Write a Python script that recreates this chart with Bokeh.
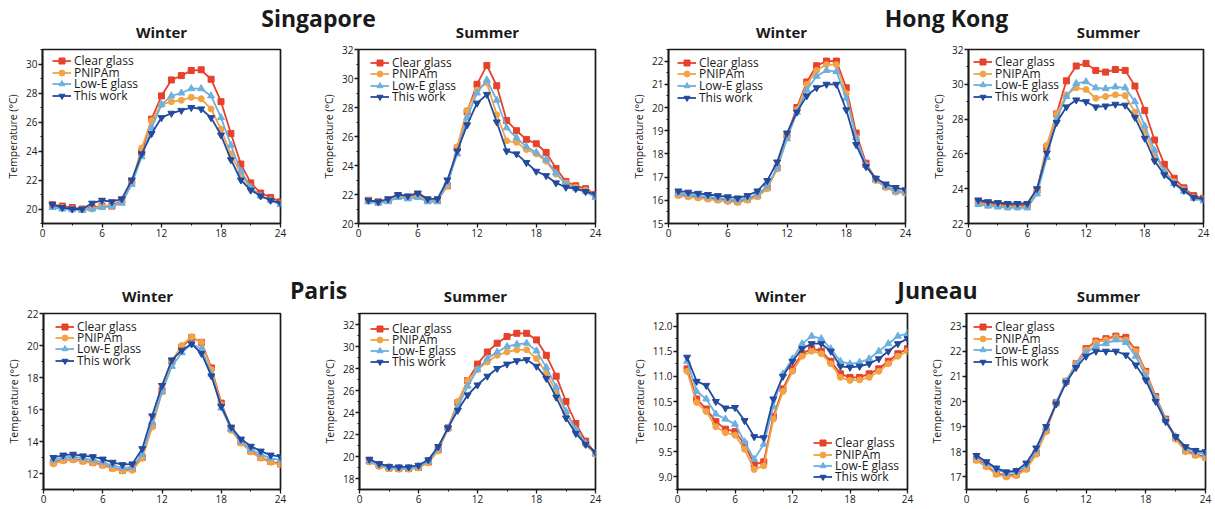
from bokeh.plotting import figure
from bokeh.models import Range1d, FixedTicker, PrintfTickFormatter, Label, Legend, LegendItem
from bokeh.layouts import column, row
from bokeh.embed import file_html
from bokeh.resources import INLINE

FONT = "Open Sans"

hours = list(range(1, 25))
series_names = ["Clear glass", "PNIPAm", "Low-E glass", "This work"]
series_colors = ["#e8412b", "#f2a345", "#6cb0e0", "#234a9c"]
series_markers = ["square", "circle", "triangle", "inverted_triangle"]
x_major = [0, 6, 12, 18, 24]
x_minor = [3, 9, 15, 21]

sg_w_clear = [20.3, 20.2, 20.1, 20.0, 20.1, 20.2, 20.2, 20.6, 21.9, 23.9, 26.2, 27.8, 28.9, 29.2, 29.55, 29.6, 28.95, 27.4, 25.2, 23.1, 21.8, 21.1, 20.8, 20.5]
sg_w_pnipam = [20.2, 20.1, 20.0, 20.0, 20.0, 20.2, 20.2, 20.5, 21.8, 24.2, 26.1, 27.2, 27.4, 27.5, 27.7, 27.6, 26.9, 25.5, 23.8, 22.4, 21.4, 20.9, 20.6, 20.4]
sg_w_lowe = [20.1, 20.0, 19.95, 19.9, 20.0, 20.1, 20.2, 20.4, 21.7, 23.6, 25.6, 27.2, 27.8, 28.0, 28.3, 28.3, 27.8, 26.3, 24.4, 22.6, 21.5, 20.9, 20.6, 20.3]
sg_w_this = [20.3, 20.1, 20.0, 20.0, 20.4, 20.6, 20.5, 20.7, 22.0, 23.8, 25.2, 26.3, 26.6, 26.8, 27.0, 26.9, 26.3, 25.1, 23.4, 22.0, 21.3, 20.9, 20.6, 20.4]

sg_s_clear = [21.6, 21.5, 21.6, 21.9, 21.8, 22.0, 21.6, 21.6, 22.6, 25.2, 27.7, 29.6, 30.9, 29.5, 27.1, 26.4, 25.8, 25.5, 24.9, 23.8, 22.9, 22.6, 22.4, 22.0]
sg_s_pnipam = [21.6, 21.5, 21.6, 21.9, 21.8, 21.9, 21.6, 21.6, 22.6, 25.3, 27.8, 29.2, 29.7, 27.5, 25.7, 25.6, 25.1, 24.8, 24.3, 23.4, 22.8, 22.5, 22.3, 21.9]
sg_s_lowe = [21.5, 21.4, 21.5, 21.8, 21.7, 21.8, 21.5, 21.5, 22.8, 24.8, 27.3, 29.0, 29.9, 28.5, 26.6, 25.9, 25.3, 24.9, 24.4, 23.5, 22.7, 22.4, 22.2, 21.8]
sg_s_this = [21.6, 21.5, 21.7, 22.0, 21.9, 22.1, 21.7, 21.7, 23.0, 25.0, 26.8, 28.3, 28.9, 27.0, 25.0, 24.8, 24.2, 23.6, 23.3, 22.8, 22.5, 22.4, 22.2, 22.0]

hk_w_clear = [16.25, 16.2, 16.15, 16.1, 16.05, 16.0, 15.95, 16.05, 16.2, 16.55, 17.4, 18.8, 20.0, 21.1, 21.8, 22.0, 22.0, 20.85, 18.9, 17.6, 16.9, 16.6, 16.4, 16.35]
hk_w_pnipam = [16.2, 16.15, 16.1, 16.05, 16.0, 15.95, 15.9, 16.0, 16.15, 16.5, 17.35, 18.7, 19.9, 21.0, 21.6, 21.85, 21.85, 20.6, 18.7, 17.5, 16.85, 16.55, 16.35, 16.3]
hk_w_lowe = [16.3, 16.25, 16.2, 16.15, 16.1, 16.05, 16.0, 16.1, 16.25, 16.6, 17.4, 18.65, 19.8, 20.75, 21.35, 21.6, 21.55, 20.4, 18.7, 17.5, 16.9, 16.6, 16.4, 16.35]
hk_w_this = [16.4, 16.35, 16.3, 16.25, 16.2, 16.15, 16.1, 16.2, 16.4, 16.85, 17.65, 18.9, 19.8, 20.5, 20.85, 21.0, 21.0, 19.9, 18.4, 17.45, 16.95, 16.7, 16.55, 16.45]

hk_s_clear = [23.25, 23.15, 23.1, 23.05, 23.05, 23.05, 23.9, 26.4, 28.3, 30.2, 31.05, 31.2, 30.8, 30.7, 30.85, 30.8, 29.9, 28.5, 26.8, 25.4, 24.6, 24.05, 23.6, 23.45]
hk_s_pnipam = [23.15, 23.05, 23.0, 22.95, 22.95, 22.95, 23.85, 26.5, 28.3, 29.4, 29.8, 29.7, 29.2, 29.3, 29.4, 29.35, 28.4, 27.3, 25.9, 25.0, 24.4, 23.95, 23.5, 23.4]
hk_s_lowe = [23.1, 23.0, 22.95, 22.9, 22.9, 22.9, 23.7, 25.8, 28.0, 29.3, 30.05, 30.15, 29.8, 29.75, 29.85, 29.8, 29.0, 27.6, 26.2, 25.0, 24.3, 23.85, 23.45, 23.3]
hk_s_this = [23.35, 23.25, 23.2, 23.15, 23.15, 23.15, 24.0, 26.05, 27.8, 28.7, 29.1, 29.0, 28.7, 28.75, 28.85, 28.8, 28.1, 26.9, 25.6, 24.8, 24.3, 23.9, 23.5, 23.4]

pa_w_clear = [12.7, 12.85, 12.9, 12.8, 12.7, 12.55, 12.35, 12.2, 12.3, 13.0, 15.0, 17.2, 19.0, 19.9, 20.5, 20.2, 18.6, 16.4, 14.8, 13.95, 13.4, 13.0, 12.75, 12.6]
pa_w_pnipam = [12.6, 12.8, 12.85, 12.75, 12.65, 12.5, 12.3, 12.15, 12.2, 12.95, 14.9, 17.1, 19.0, 20.0, 20.55, 20.2, 18.5, 16.3, 14.7, 13.9, 13.35, 12.95, 12.7, 12.55]
pa_w_lowe = [12.85, 13.0, 13.05, 12.95, 12.85, 12.7, 12.5, 12.35, 12.4, 13.2, 15.2, 17.1, 18.7, 19.55, 20.1, 19.8, 18.2, 16.1, 14.75, 14.0, 13.5, 13.2, 12.95, 12.85]
pa_w_this = [13.0, 13.15, 13.2, 13.1, 13.05, 12.9, 12.7, 12.55, 12.6, 13.55, 15.6, 17.5, 19.1, 19.7, 20.1, 19.5, 18.1, 16.2, 14.9, 14.15, 13.7, 13.4, 13.15, 13.05]

pa_s_clear = [19.6, 19.2, 18.95, 18.9, 18.9, 19.0, 19.5, 20.6, 22.6, 24.9, 26.9, 28.4, 29.5, 30.3, 30.9, 31.2, 31.2, 30.6, 29.2, 27.3, 25.0, 23.0, 21.4, 20.3]
pa_s_pnipam = [19.5, 19.1, 18.9, 18.85, 18.85, 18.95, 19.45, 20.5, 22.5, 25.0, 26.9, 27.9, 28.6, 29.2, 29.5, 29.7, 29.7, 28.9, 27.6, 25.9, 24.0, 22.4, 21.1, 20.2]
pa_s_lowe = [19.6, 19.25, 19.0, 18.95, 18.95, 19.1, 19.55, 20.7, 22.6, 24.5, 26.4, 27.9, 28.9, 29.5, 30.0, 30.2, 30.3, 29.6, 28.1, 26.3, 24.1, 22.5, 21.2, 20.3]
pa_s_this = [19.75, 19.35, 19.1, 19.05, 19.05, 19.2, 19.7, 20.9, 22.6, 24.2, 25.6, 26.5, 27.3, 28.0, 28.4, 28.7, 28.8, 28.2, 27.1, 25.4, 23.5, 22.1, 21.1, 20.4]

ju_w_clear = [11.15, 10.55, 10.35, 10.1, 9.95, 9.9, 9.65, 9.25, 9.3, 10.2, 10.75, 11.15, 11.45, 11.55, 11.5, 11.3, 11.05, 10.98, 10.98, 11.05, 11.15, 11.3, 11.45, 11.55]
ju_w_pnipam = [11.1, 10.48, 10.3, 10.0, 9.88, 9.83, 9.55, 9.15, 9.22, 10.15, 10.7, 11.1, 11.4, 11.5, 11.45, 11.25, 10.98, 10.92, 10.93, 10.98, 11.1, 11.25, 11.4, 11.5]
ju_w_lowe = [11.3, 10.7, 10.55, 10.25, 10.15, 10.05, 9.7, 9.35, 9.65, 10.4, 11.05, 11.35, 11.65, 11.8, 11.75, 11.55, 11.3, 11.25, 11.28, 11.35, 11.5, 11.65, 11.8, 11.85]
ju_w_this = [11.38, 10.9, 10.82, 10.5, 10.37, 10.38, 10.12, 9.8, 9.78, 10.55, 11.0, 11.3, 11.55, 11.65, 11.65, 11.5, 11.2, 11.18, 11.2, 11.25, 11.35, 11.5, 11.65, 11.75]

ju_s_clear = [17.7, 17.45, 17.15, 17.05, 17.1, 17.35, 17.95, 18.85, 19.95, 20.8, 21.5, 22.1, 22.4, 22.5, 22.6, 22.55, 22.05, 21.2, 20.2, 19.3, 18.55, 18.05, 17.9, 17.8]
ju_s_pnipam = [17.65, 17.4, 17.1, 17.0, 17.05, 17.3, 17.9, 18.8, 19.9, 20.8, 21.5, 22.05, 22.35, 22.45, 22.55, 22.45, 22.0, 21.15, 20.15, 19.25, 18.5, 18.0, 17.85, 17.75]
ju_s_lowe = [17.8, 17.55, 17.3, 17.15, 17.2, 17.45, 18.05, 18.95, 19.95, 20.8, 21.45, 21.95, 22.2, 22.3, 22.45, 22.35, 21.8, 21.0, 20.1, 19.25, 18.6, 18.15, 18.0, 17.9]
ju_s_this = [17.85, 17.6, 17.35, 17.2, 17.25, 17.55, 18.15, 19.0, 19.9, 20.75, 21.35, 21.8, 22.0, 22.0, 22.0, 21.85, 21.45, 20.85, 20.0, 19.2, 18.6, 18.2, 18.05, 18.0]


def steps(a, b, s):
    out, v = [], a
    while v <= b + 1e-9:
        out.append(round(v, 3))
        v += s
    return out

# frames within a row share top/bottom borders
ROW1 = dict(height=200, top=7, bottom=19)
ROW2 = dict(height=203, top=7, bottom=20)

panels_row1 = [
    dict(data=[sg_w_clear, sg_w_pnipam, sg_w_lowe, sg_w_this], yr=(19, 31), major=steps(20, 30, 2), minor=steps(19, 31, 2), fmt="%d",
         w=300, left=42, right=20, lx=10, ly=12.0, ld=11.6, from_top=True),
    dict(data=[sg_s_clear, sg_s_pnipam, sg_s_lowe, sg_s_this], yr=(20, 32), major=steps(20, 32, 2), minor=steps(21, 31, 2), fmt="%d",
         w=320, left=58, right=25, lx=12, ly=13.6, ld=11.5, from_top=True),
    dict(data=[hk_w_clear, hk_w_pnipam, hk_w_lowe, hk_w_this], yr=(15, 22.5), major=steps(15, 22, 1), minor=steps(15.5, 22.5, 1), fmt="%d",
         w=305, left=48, right=20, lx=9, ly=13.6, ld=11.6, from_top=True),
    dict(data=[hk_s_clear, hk_s_pnipam, hk_s_lowe, hk_s_this], yr=(22, 32), major=steps(22, 32, 2), minor=steps(23, 31, 2), fmt="%d",
         w=290, left=43, right=12, lx=5, ly=12.7, ld=11.7, from_top=True),
]
panels_row2 = [
    dict(data=[pa_w_clear, pa_w_pnipam, pa_w_lowe, pa_w_this], yr=(11, 22), major=steps(12, 22, 2), minor=steps(11, 21, 2), fmt="%d",
         w=300, left=43, right=20, lx=12, ly=13.7, ld=11.3, from_top=True),
    dict(data=[pa_s_clear, pa_s_pnipam, pa_s_lowe, pa_s_this], yr=(17, 33), major=steps(18, 32, 2), minor=steps(17, 33, 2), fmt="%d",
         w=325, left=59, right=30, lx=11, ly=15.5, ld=11.2, from_top=True),
    dict(data=[ju_w_clear, ju_w_pnipam, ju_w_lowe, ju_w_this], yr=(8.75, 12.25), major=steps(9.0, 12.0, 0.5), minor=steps(8.75, 12.25, 0.5), fmt="%.1f",
         w=300, left=52, right=18, lx=136, ly=45.7, ld=11.1, from_top=False),
    dict(data=[ju_s_clear, ju_s_pnipam, ju_s_lowe, ju_s_this], yr=(16.5, 23.5), major=steps(17, 23, 1), minor=steps(16.5, 23.5, 1), fmt="%d",
         w=290, left=41, right=10, lx=7, ly=14.3, ld=11.5, from_top=True),
]

ITEM_H = 16.3  # legend item height for 12px Open Sans


def make_panel(cfg, rw):
    height, top, bottom = rw["height"], rw["top"], rw["bottom"]
    p = figure(width=cfg["w"], height=height, output_backend="svg", toolbar_location=None, title=None,
               x_range=Range1d(0, 24), y_range=Range1d(*cfg["yr"]),
               min_border_left=cfg["left"], min_border_right=cfg["right"],
               min_border_top=top, min_border_bottom=bottom)
    frame_h = height - top - bottom
    p.background_fill_color = "white"
    p.border_fill_color = "white"
    p.outline_line_color = "#1a1a1a"
    p.outline_line_width = 1.7
    p.grid.visible = False
    p.xaxis.ticker = FixedTicker(ticks=x_major, minor_ticks=x_minor)
    p.yaxis.ticker = FixedTicker(ticks=cfg["major"], minor_ticks=cfg["minor"])
    p.yaxis.formatter = PrintfTickFormatter(format=cfg["fmt"])
    p.yaxis.axis_label = "Temperature (°C)"
    for ax in (p.xaxis[0], p.yaxis[0]):
        ax.axis_line_color = "#1a1a1a"
        ax.axis_line_width = 1.7
        ax.major_tick_line_color = "#1a1a1a"
        ax.major_tick_line_width = 1.3
        ax.minor_tick_line_color = "#1a1a1a"
        ax.minor_tick_line_width = 1.0
        ax.major_tick_out = 4
        ax.major_tick_in = 0
        ax.minor_tick_out = 2
        ax.minor_tick_in = 0
        ax.major_label_text_font = FONT
        ax.major_label_text_font_size = "10px"
        ax.major_label_text_color = "#1a1a1a"
        ax.major_label_standoff = 1
    p.yaxis.axis_label_text_font = FONT
    p.yaxis.axis_label_text_font_size = "10.5px"
    p.yaxis.axis_label_text_font_style = "normal"
    p.yaxis.axis_label_text_color = "#1a1a1a"
    p.yaxis.axis_label_standoff = 3
    for i, (vals, name, col, mk) in enumerate(zip(cfg["data"], series_names, series_colors, series_markers)):
        r_line = p.line(hours, vals, line_color=col, line_width=1.8)
        sz = 6 if mk in ("square", "circle") else 7
        r_pts = p.scatter(hours, vals, marker=mk, size=sz, fill_color=col, line_color=col)
        if cfg["from_top"]:
            center_from_bottom = frame_h - (cfg["ly"] + cfg["ld"] * i)
        else:
            center_from_bottom = cfg["ly"] - cfg["ld"] * i
        lg = Legend(items=[LegendItem(label=name, renderers=[r_line, r_pts])],
                    location=(cfg["lx"], center_from_bottom - ITEM_H / 2),
                    margin=0, padding=0, spacing=0,
                    label_height=12, glyph_height=15, glyph_width=19, label_standoff=3,
                    label_text_font=FONT, label_text_font_size="12px", label_text_color="#1a1a1a",
                    background_fill_alpha=0, border_line_alpha=0)
        p.add_layout(lg, "center")
    return p


def make_strip(h, labels):
    s = figure(width=1215, height=h, output_backend="svg", toolbar_location=None, title=None,
               x_range=Range1d(0, 1215), y_range=Range1d(0, h),
               x_axis_location=None, y_axis_location=None,
               min_border=0, min_border_left=0, min_border_right=0, min_border_top=0, min_border_bottom=0)
    s.grid.visible = False
    s.outline_line_color = None
    s.background_fill_color = "white"
    s.border_fill_color = "white"
    for (x, y, txt, size) in labels:
        s.add_layout(Label(x=x, y=h - y, text=txt, text_font=FONT, text_font_size=size,
                           text_font_style="bold", text_color="#1a1a1a",
                           text_align="center", text_baseline="alphabetic"))
    return s

# strip label positions: (center x, y from strip top)
strip1 = make_strip(42, [
    (318, 17, "Singapore", "23px"),
    (946, 17, "Hong Kong", "23px"),
    (161, 31.5, "Winter", "15px"),
    (487, 31.5, "Summer", "15px"),
    (781, 31.5, "Winter", "15px"),
    (1108, 31.5, "Summer", "15px"),
])
strip2 = make_strip(64, [
    (318, 47.8, "Paris", "23px"),
    (937, 47.8, "Juneau", "23px"),
    (147, 53, "Winter", "15px"),
    (475, 53, "Summer", "15px"),
    (780, 53, "Winter", "15px"),
    (1108, 53, "Summer", "15px"),
])

row1 = row([make_panel(c, ROW1) for c in panels_row1])
row2 = row([make_panel(c, ROW2) for c in panels_row2])

layout = column(strip1, row1, strip2, row2)
open("out.html", "w").write(file_html(layout, INLINE))
